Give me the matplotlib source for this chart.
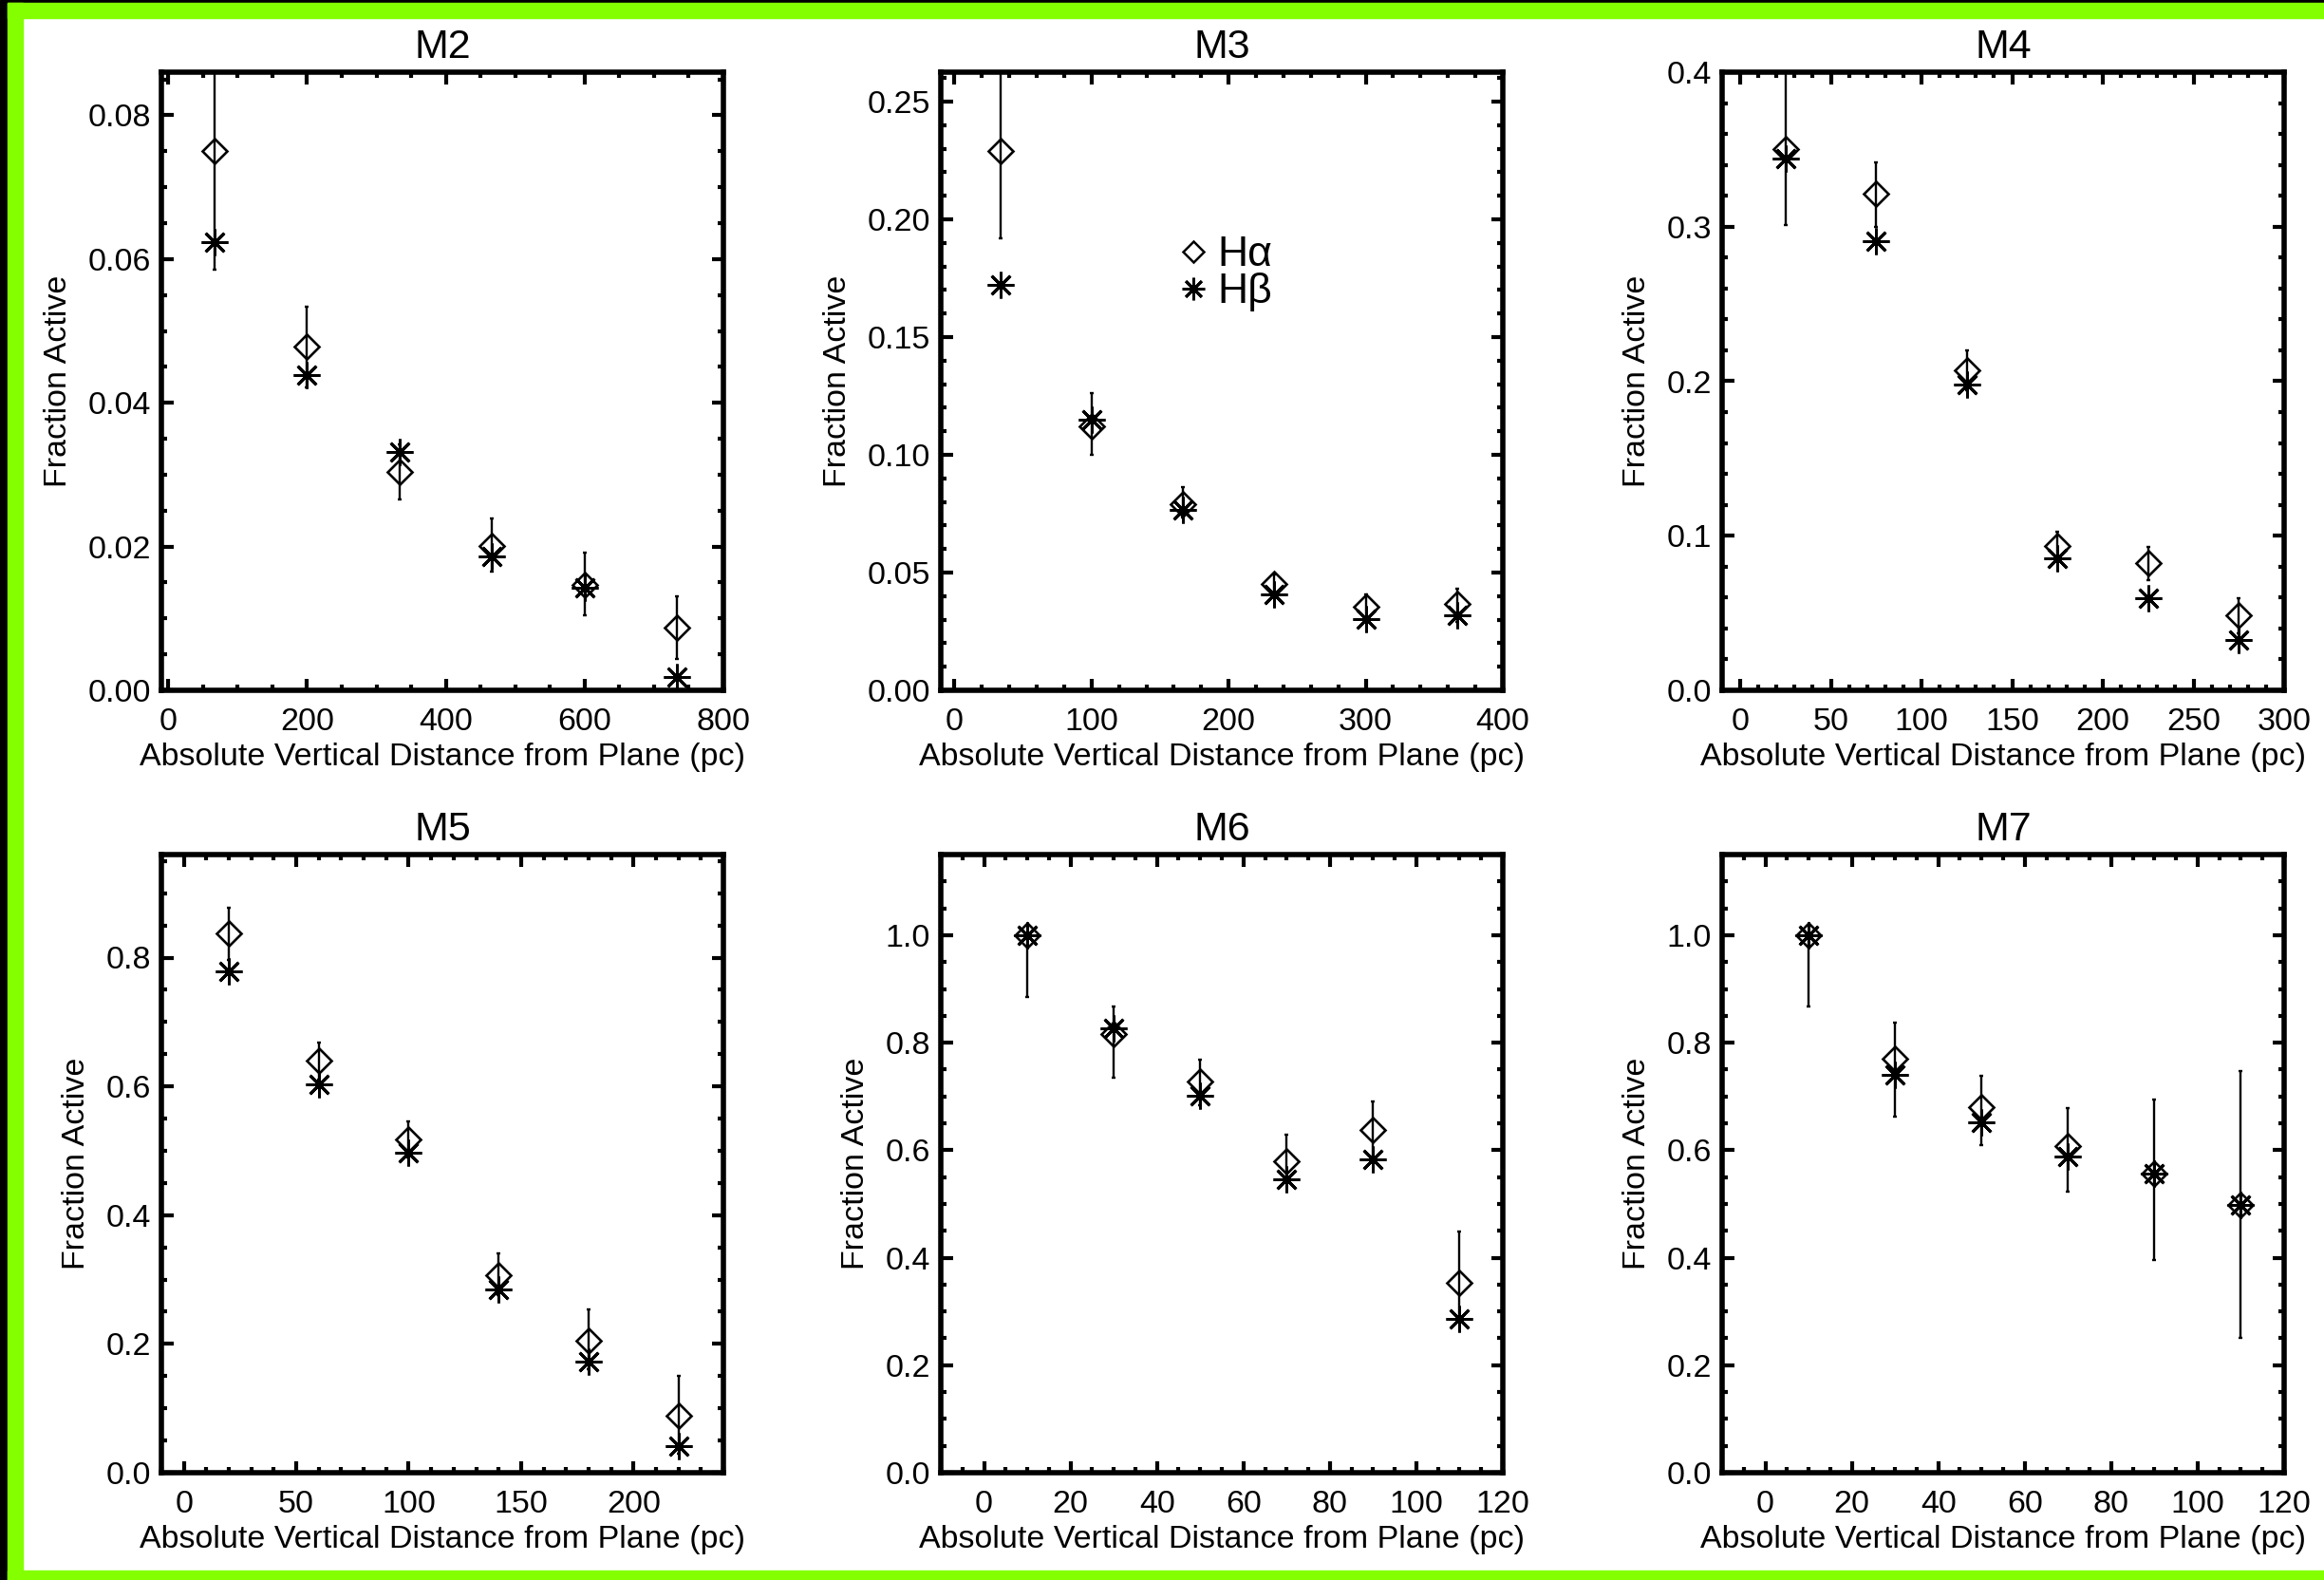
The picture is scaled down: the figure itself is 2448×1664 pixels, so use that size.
import numpy as np
import matplotlib
matplotlib.use('Agg')
import matplotlib.pyplot as plt
from matplotlib.ticker import MultipleLocator, FormatStrFormatter
from matplotlib.lines import Line2D
from matplotlib.patches import Rectangle

plt.rcParams['font.family'] = ['Liberation Sans', 'DejaVu Sans']

# z (pc), H-alpha / H-beta fractions, H-alpha error bar ends
m2_z = [66.7, 200, 333.3, 466.7, 600, 733.3]
m2_ha = [0.0750, 0.0478, 0.0304, 0.0201, 0.0146, 0.0087]
m2_hb = [0.0624, 0.0439, 0.0331, 0.0186, 0.0143, 0.0018]
m2_lo = [0.0585, 0.0422, 0.0266, 0.0165, 0.0104, 0.0044]
m2_hi = [0.0950, 0.0534, 0.0342, 0.0239, 0.0191, 0.0131]

m3_z = [33.3, 100, 166.7, 233.3, 300, 366.7]
m3_ha = [0.229, 0.112, 0.079, 0.045, 0.0355, 0.0366]
m3_hb = [0.172, 0.115, 0.0767, 0.0408, 0.0302, 0.0317]
m3_lo = [0.192, 0.100, 0.0735, 0.041, 0.030, 0.029]
m3_hi = [0.280, 0.1264, 0.0862, 0.0492, 0.0408, 0.0433]

m4_z = [25, 75, 125, 175, 225, 275]
m4_ha = [0.350, 0.3215, 0.2068, 0.0937, 0.0824, 0.0485]
m4_hb = [0.344, 0.2908, 0.1977, 0.0856, 0.0598, 0.0323]
m4_lo = [0.301, 0.300, 0.194, 0.0856, 0.071, 0.037]
m4_hi = [0.420, 0.3415, 0.2197, 0.1027, 0.093, 0.0598]

m5_z = [20, 60, 100, 140, 180, 220]
m5_ha = [0.837, 0.640, 0.517, 0.306, 0.205, 0.089]
m5_hb = [0.778, 0.603, 0.497, 0.284, 0.173, 0.041]
m5_lo = [0.797, 0.610, 0.490, 0.276, 0.161, 0.030]
m5_hi = [0.877, 0.668, 0.545, 0.340, 0.254, 0.151]

m6_z = [10, 30, 50, 70, 90, 110]
m6_ha = [1.0, 0.816, 0.728, 0.580, 0.637, 0.354]
m6_hb = [1.0, 0.826, 0.702, 0.545, 0.583, 0.286]
m6_lo = [0.885, 0.735, 0.683, 0.540, 0.588, 0.283]
m6_hi = [1.0, 0.867, 0.769, 0.628, 0.690, 0.448]

m7_z = [10, 30, 50, 70, 90, 110]
m7_ha = [1.0, 0.771, 0.680, 0.607, 0.556, 0.499]
m7_hb = [1.0, 0.740, 0.652, 0.588, 0.556, 0.499]
m7_lo = [0.867, 0.662, 0.609, 0.523, 0.395, 0.251]
m7_hi = [1.0, 0.838, 0.738, 0.678, 0.695, 0.748]

names = ['M2', 'M3', 'M4', 'M5', 'M6', 'M7']
zs = [m2_z, m3_z, m4_z, m5_z, m6_z, m7_z]
has = [m2_ha, m3_ha, m4_ha, m5_ha, m6_ha, m7_ha]
hbs = [m2_hb, m3_hb, m4_hb, m5_hb, m6_hb, m7_hb]
los = [m2_lo, m3_lo, m4_lo, m5_lo, m6_lo, m7_lo]
his = [m2_hi, m3_hi, m4_hi, m5_hi, m6_hi, m7_hi]

x_max = [800, 400, 300, 240, 120, 120]
x_major = [200, 100, 50, 50, 20, 20]
x_minor = [50, 20, 10, 10, 5, 5]
y_max = [0.086, 0.2625, 0.4, 0.96, 1.15, 1.15]
y_major = [0.02, 0.05, 0.1, 0.2, 0.2, 0.2]
y_minor = [0.005, 0.01, 0.02, 0.05, 0.05, 0.05]
y_fmt = ['%.2f', '%.2f', '%.1f', '%.1f', '%.1f', '%.1f']

W, H = 2448, 1664
fig = plt.figure(figsize=(W / 100, H / 100), dpi=100)

# frame round the picture
green = '#84FF00'
fig.patches.append(Rectangle((0, 0), 8 / W, 1, transform=fig.transFigure, color='black', zorder=-5))
fig.patches.append(Rectangle((8 / W, 0), 16 / W, 1 - 3 / H, transform=fig.transFigure, color=green, zorder=-4))
fig.patches.append(Rectangle((8 / W, 1 - 3 / H), 1, 3 / H, transform=fig.transFigure, color='black', zorder=-5))
fig.patches.append(Rectangle((8 / W, 1 - 19 / H), 1, 16 / H, transform=fig.transFigure, color=green, zorder=-4))
fig.patches.append(Rectangle((8 / W, 0), 1, 10 / H, transform=fig.transFigure, color=green, zorder=-4))

lefts = [170, 991, 1814]
tops = [76, 900]
aw, ah = 592, 651

fs = 24.5
star = (8, 2, 0)
for i in range(6):
    r, c = divmod(i, 3)
    ax = fig.add_axes([lefts[c] / W, 1 - (tops[r] + ah) / H, aw / W, ah / H])
    z = np.array(zs[i])
    ha = np.array(has[i])
    hb = np.array(hbs[i])
    yerr = [ha - np.array(los[i]), np.array(his[i]) - ha]
    ax.errorbar(z, ha, yerr=yerr, fmt='none', ecolor='black', elinewidth=1.7,
                capsize=1.5, capthick=1.7, zorder=2)
    ax.plot(z, ha, linestyle='none', marker='D', markersize=13, markerfacecolor='none',
            markeredgecolor='black', markeredgewidth=1.9, zorder=3)
    ax.plot(z, hb, linestyle='none', marker=star, markersize=20,
            markeredgecolor='black', markeredgewidth=2.1, zorder=3)

    ax.set_xlim(-10, x_max[i])
    ax.set_ylim(0, y_max[i])
    ax.xaxis.set_major_locator(MultipleLocator(x_major[i]))
    ax.xaxis.set_minor_locator(MultipleLocator(x_minor[i]))
    ax.yaxis.set_major_locator(MultipleLocator(y_major[i]))
    ax.yaxis.set_minor_locator(MultipleLocator(y_minor[i]))
    ax.yaxis.set_major_formatter(FormatStrFormatter(y_fmt[i]))
    for s in ax.spines.values():
        s.set_linewidth(4)
    ax.tick_params(which='both', direction='in', top=True, right=True, width=3, labelsize=fs)
    ax.tick_params(which='major', length=9)
    ax.tick_params(which='minor', length=4)
    ax.tick_params(axis='x', pad=13)
    ax.tick_params(axis='y', pad=8)
    ax.set_title(names[i], fontsize=31, pad=11)
    ax.set_xlabel('Absolute Vertical Distance from Plane (pc)', fontsize=fs, labelpad=4)
    ax.set_ylabel('Fraction Active', fontsize=fs, labelpad=11)

    if names[i] == 'M3':
        handles = [Line2D([], [], linestyle='none', marker='D', markersize=11, markerfacecolor='none',
                          markeredgecolor='black', markeredgewidth=1.8),
                   Line2D([], [], linestyle='none', marker=star, markersize=17,
                          markeredgecolor='black', markeredgewidth=2.0)]
        ax.legend(handles, ['H\u03b1', 'H\u03b2'], loc='center left', bbox_to_anchor=(0.39, 0.674),
                  frameon=False, fontsize=32, handlelength=0.6, handletextpad=0.25,
                  labelspacing=-0.05, borderpad=0)

fig.savefig('out.png', dpi=100, facecolor='white')
